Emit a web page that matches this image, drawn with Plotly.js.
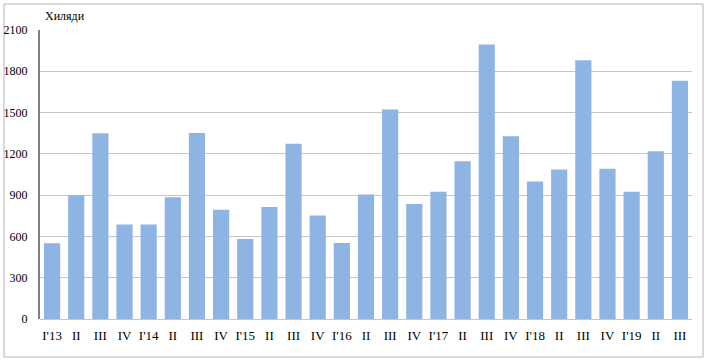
<!DOCTYPE html>
<html>
<head>
<meta charset="utf-8">
<script src="https://cdn.plot.ly/plotly-3.0.1.min.js"></script>
<style>
html,body{margin:0;padding:0;background:#fff;}
#chart{width:708px;height:362px;}
</style>
</head>
<body>
<div id="chart"></div>
<script>
const quarters = ["I'13","II","III","IV","I'14","II","III","IV","I'15","II","III","IV","I'16","II","III","IV","I'17","II","III","IV","I'18","II","III","IV","I'19","II","III"];
const values = [550,900,1350,687,687,885,1352,794,581,813,1273,752,552,905,1522,835,924,1147,1994,1328,999,1086,1880,1091,924,1219,1732];
const yTicks = [0,300,600,900,1200,1500,1800,2100];
const unitLabel = "Хиляди";

const idx = quarters.map((q,i)=>i);
const fam = "Liberation Serif, Times New Roman, serif";
const font = {family:fam, size:12, color:"#000"};
const xfont = {family:fam, size:13, color:"#000"};

Plotly.newPlot("chart", [{
  type:"bar",
  x: idx,
  y: values,
  marker:{color:"#8DB4E2"},
  hoverinfo:"none"
}], {
  width:708, height:362,
  margin:{l:40, r:16, t:30, b:43, pad:0},
  paper_bgcolor:"#fff", plot_bgcolor:"#fff",
  bargap:0.33,
  showlegend:false,
  font: font,
  xaxis:{
    tickmode:"array", tickvals: idx, ticktext: quarters,
    range:[-0.5, quarters.length-0.5],
    showgrid:false, zeroline:false, showline:false,
    ticks:"", ticklabelstandoff:7, tickfont:xfont, fixedrange:true
  },
  yaxis:{
    range:[0,2100], tickmode:"array", tickvals:yTicks,
    showgrid:true, gridcolor:"#c6c6c6", gridwidth:1,
    zeroline:true, zerolinecolor:"#c6c6c6", zerolinewidth:1,
    showline:true, linecolor:"#7f7f7f", linewidth:2,
    ticks:"", ticklabelstandoff:8, tickfont:font, fixedrange:true
  },
  annotations:[{
    text: unitLabel, xref:"paper", yref:"paper",
    x:0.004, y:1.048, xanchor:"left", yanchor:"middle",
    showarrow:false, font:{family:fam, size:12, color:"#000"}
  }],
  shapes:[{
    type:"rect", xref:"paper", yref:"paper",
    x0:-0.0552, x1:1.0169, y0:-0.1315, y1:1.09,
    line:{color:"#b4b4b4", width:1}, fillcolor:"rgba(0,0,0,0)", layer:"below"
  }]
}, {staticPlot:true, displayModeBar:false});
</script>
</body>
</html>
